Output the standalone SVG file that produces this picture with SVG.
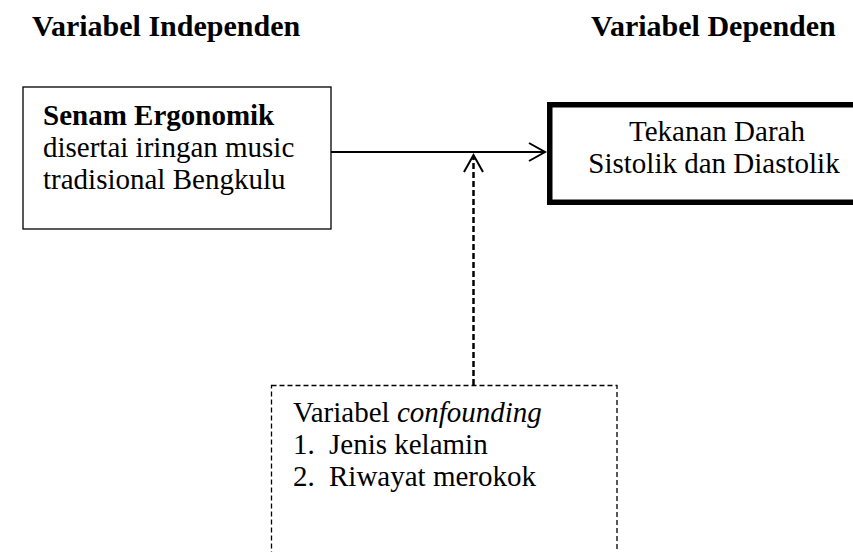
<svg xmlns="http://www.w3.org/2000/svg" width="853" height="552" viewBox="0 0 853 552">
<style>
text{font-family:"Liberation Serif","Times New Roman",serif;font-size:29px;fill:#000}
.b{font-weight:bold}
.t{font-size:30px}
.thin{fill:#fff;stroke:#000;stroke-width:1.3}
.thick{fill:#fff;stroke:#000;stroke-width:5.5}
.dbox{fill:#fff;stroke:#000;stroke-width:1.3;stroke-dasharray:5 3}
.conn{fill:none;stroke:#000;stroke-width:2}
.dash{stroke-width:2.5;stroke-dasharray:6 3}
</style>
<rect width="853" height="552" fill="#fff"/>
<g id="title-independen"><text class="b t" x="32" y="36">Variabel Independen</text></g>
<g id="title-dependen"><text class="b t" x="591" y="36">Variabel Dependen</text></g>
<g id="node-senam">
<rect class="thin" x="23" y="87" width="308" height="142"/>
<text x="43" y="125"><tspan class="b">Senam Ergonomik</tspan><tspan x="43" dy="32">disertai iringan music</tspan><tspan x="43" dy="32">tradisional Bengkulu</tspan></text>
</g>
<g id="node-tekanan">
<rect class="thick" x="549.75" y="104.75" width="320" height="97.5"/>
<text x="717" y="141" text-anchor="middle">Tekanan Darah<tspan x="714" dy="32">Sistolik dan Diastolik</tspan></text>
</g>
<g id="node-confounding">
<rect class="dbox" x="271.5" y="385.5" width="345.5" height="200"/>
<text x="293" y="422">Variabel <tspan font-style="italic">confounding</tspan><tspan x="293" dy="32">1.</tspan><tspan x="329">Jenis kelamin</tspan><tspan x="293" dy="32">2.</tspan><tspan x="329">Riwayat merokok</tspan></text>
</g>
<g id="connectors">
<line class="conn" x1="331" y1="152" x2="545" y2="152"/>
<polyline class="conn" points="529,143 545,152 529,161"/>
<line class="conn dash" x1="473.5" y1="385" x2="473.5" y2="157"/>
<polyline class="conn" points="464,172 473.5,155 483,172"/>
</g>
</svg>
